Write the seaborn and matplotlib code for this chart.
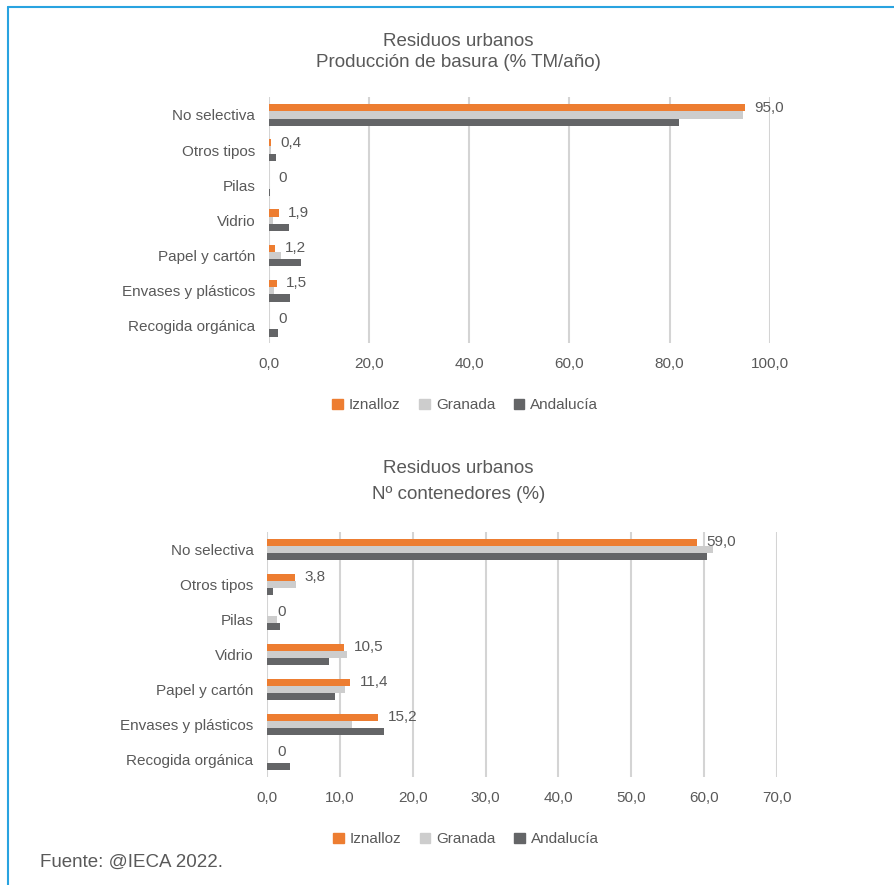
import matplotlib
matplotlib.use('Agg')
import matplotlib.pyplot as plt
from matplotlib import font_manager
from matplotlib.lines import Line2D
from matplotlib.patches import Patch
from matplotlib.ticker import FuncFormatter
import seaborn as sns
import pandas as pd

# Data
categorias = ['No selectiva', 'Otros tipos', 'Pilas', 'Vidrio', 'Papel y cartón',
              'Envases y plásticos', 'Recogida orgánica']
zonas = ['Iznalloz', 'Granada', 'Andalucía']

basura_iznalloz = [95.0, 0.4, 0.0, 1.9, 1.2, 1.5, 0.0]
basura_granada = [94.6, 0.3, 0.0, 0.8, 2.4, 0.9, 0.0]
basura_andalucia = [81.8, 1.3, 0.1, 3.9, 6.3, 4.2, 1.8]
basura_etiquetas = ['95,0', '0,4', '0', '1,9', '1,2', '1,5', '0']

cont_iznalloz = [59.0, 3.8, 0.0, 10.5, 11.4, 15.2, 0.0]
cont_granada = [61.2, 3.9, 1.3, 10.9, 10.7, 11.7, 0.0]
cont_andalucia = [60.4, 0.8, 1.7, 8.5, 9.3, 16.0, 3.1]
cont_etiquetas = ['59,0', '3,8', '0', '10,5', '11,4', '15,2', '0']

colores = ['#ED7D31', '#CDCDCD', '#646567']
texto = '#595959'

sns.set_theme(style='white')
disponibles = {f.name for f in font_manager.fontManager.ttflist}
fuente = 'Liberation Sans Narrow' if 'Liberation Sans Narrow' in disponibles else 'Liberation Sans'
plt.rcParams['font.family'] = [fuente, 'DejaVu Sans']


def tabla(a, b, c):
    filas = []
    for zona, vals in zip(zonas, [a, b, c]):
        for cat, v in zip(categorias, vals):
            filas.append({'categoria': cat, 'zona': zona, 'valor': v})
    return pd.DataFrame(filas)


def dibujar(ax, df, etiquetas, xmax, paso, leg_x, leg_y):
    sns.barplot(data=df, y='categoria', x='valor', hue='zona', orient='h',
                palette=colores, saturation=1, width=0.62, ax=ax, legend=False,
                order=categorias, hue_order=zonas, linewidth=0)
    ax.set_xlim(0, xmax)
    ax.set_ylim(6.5, -0.5)
    ax.set_xticks([i * paso for i in range(int(xmax / paso) + 1)])
    ax.xaxis.set_major_formatter(FuncFormatter(lambda v, p: f'{v:.1f}'.replace('.', ',')))
    ax.grid(axis='x', color='#D4D4D4', linewidth=1.5)
    ax.set_axisbelow(True)
    for s in ax.spines.values():
        s.set_visible(False)
    ax.set_xlabel('')
    ax.set_ylabel('')
    ax.tick_params(axis='both', length=0, labelsize=11, labelcolor=texto, pad=10)
    ax.bar_label(ax.containers[0], labels=etiquetas, padding=7, fontsize=11, color=texto)
    handles = [Patch(color=c, label=z) for c, z in zip(colores, zonas)]
    ax.legend(handles=handles, loc='upper center', bbox_to_anchor=(leg_x, leg_y), ncol=3,
              frameon=False, fontsize=11, labelcolor=texto, handlelength=0.7,
              handleheight=0.7, handletextpad=0.4, columnspacing=1.2)


fig = plt.figure(figsize=(8.94, 8.85), dpi=100)
ax1 = fig.add_axes([0.301, 0.612, 0.560, 0.278])
ax2 = fig.add_axes([0.299, 0.122, 0.570, 0.277])

dibujar(ax1, tabla(basura_iznalloz, basura_granada, basura_andalucia), basura_etiquetas, 100, 20, 0.392, -0.168)
dibujar(ax2, tabla(cont_iznalloz, cont_granada, cont_andalucia), cont_etiquetas, 70, 10, 0.39, -0.169)

fig.text(0.513, 0.953, 'Residuos urbanos', ha='center', va='center', fontsize=13.5, color=texto)
fig.text(0.513, 0.929, 'Producción de basura (% TM/año)', ha='center', va='center', fontsize=13.5, color=texto)
fig.text(0.513, 0.471, 'Residuos urbanos', ha='center', va='center', fontsize=13.5, color=texto)
fig.text(0.513, 0.441, 'Nº contenedores (%)', ha='center', va='center', fontsize=13.5, color=texto)
fig.text(0.045, 0.026, 'Fuente: @IECA 2022.', ha='left', va='center', fontsize=13.5, color=texto)

# blue frame on top and left
fig.add_artist(Line2D([0.009, 1.0], [0.992, 0.992], color='#29A3E0', linewidth=1.5, transform=fig.transFigure))
fig.add_artist(Line2D([0.009, 0.009], [0.0, 0.992], color='#29A3E0', linewidth=1.5, transform=fig.transFigure))

fig.savefig('out.png', dpi=100)
